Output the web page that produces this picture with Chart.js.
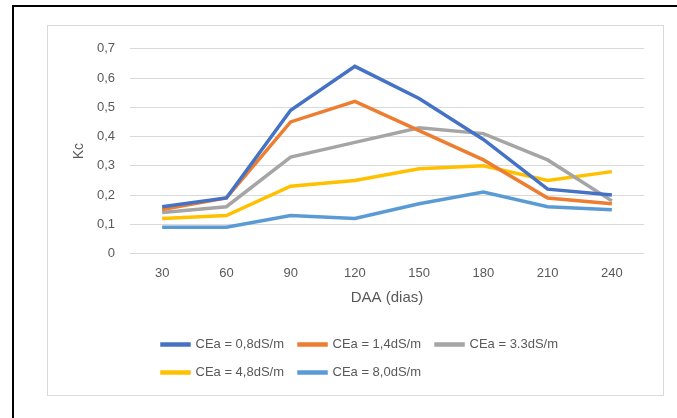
<!DOCTYPE html>
<html lang="pt">
<head>
    <meta charset="UTF-8">
    <title>Kc x DAA</title>
    <style>
        html, body { margin: 0; padding: 0; background: #fff; }
        body { width: 677px; height: 418px; position: relative; overflow: hidden; }
        .moldura {
            position: absolute; left: 12px; top: 5px; width: 700px; height: 440px;
            border-left: 2px solid #000; border-top: 2px solid #000;
        }
        .grafico {
            position: absolute; left: 47px; top: 25px; width: 615px; height: 369px;
            border: 1px solid #d9d9d9; background: #fff;
        }
    </style>
</head>
<body>
    <div class="moldura"></div>
    <div class="grafico">
        <canvas id="kc-chart" width="615" height="369"></canvas>
    </div>

    <script src="https://cdn.jsdelivr.net/npm/chart.js"></script>
    <script>
        const dias = ['30', '60', '90', '120', '150', '180', '210', '240'];
        const yTickLabels = ['0', '0,1', '0,2', '0,3', '0,4', '0,5', '0,6', '0,7'];

        const cea08 = [0.16, 0.19, 0.49, 0.64, 0.53, 0.39, 0.22, 0.20];
        const cea14 = [0.15, 0.19, 0.45, 0.52, 0.42, 0.32, 0.19, 0.17];
        const cea33 = [0.14, 0.16, 0.33, 0.38, 0.43, 0.41, 0.32, 0.18];
        const cea48 = [0.12, 0.13, 0.23, 0.25, 0.29, 0.30, 0.25, 0.28];
        const cea80 = [0.09, 0.09, 0.13, 0.12, 0.17, 0.21, 0.16, 0.15];

        const cinza = '#595959';
        const fonte = '"Liberation Sans", Arial, sans-serif';

        function serie(label, data, cor) {
            return {
                label: label,
                data: data,
                borderColor: cor,
                backgroundColor: cor,
                borderWidth: 3.5,
                pointRadius: 0,
                tension: 0
            };
        }

        // legenda do Excel: linhas alinhadas à esquerda, 3 itens na primeira linha
        const legendaExcel = {
            id: 'legendaExcel',
            beforeDraw(chart) {
                const lg = chart.legend;
                if (!lg) return;
                lg.left = 99;
                lg.right = 99 + 500;
            }
        };

        new Chart(document.getElementById('kc-chart').getContext('2d'), {
            type: 'line',
            data: {
                labels: dias,
                datasets: [
                    serie('CEa = 0,8dS/m', cea08, '#4472C4'),
                    serie('CEa = 1,4dS/m', cea14, '#ED7D31'),
                    serie('CEa = 3.3dS/m', cea33, '#A5A5A5'),
                    serie('CEa = 4,8dS/m', cea48, '#FFC000'),
                    serie('CEa = 8,0dS/m', cea80, '#5B9BD5')
                ]
            },
            options: {
                responsive: false,
                animation: false,
                layout: { padding: { top: 18, right: 19, bottom: 6, left: 0 } },
                plugins: {
                    tooltip: { enabled: false },
                    legend: {
                        position: 'bottom',
                        align: 'start',
                        labels: {
                            boxWidth: 27,
                            boxHeight: 1,
                            padding: 15,
                            color: cinza,
                            font: { family: fonte, size: 13 }
                        }
                    }
                },
                scales: {
                    x: {
                        offset: true,
                        grid: { display: false, drawTicks: false },
                        border: { display: false },
                        ticks: {
                            padding: 12,
                            color: cinza,
                            font: { family: fonte, size: 13 }
                        },
                        title: {
                            display: true,
                            text: 'DAA (dias)',
                            color: cinza,
                            padding: { top: 0, bottom: 16 },
                            font: { family: fonte, size: 15 }
                        },
                        afterFit(scale) { scale.height = 69.5; }
                    },
                    y: {
                        min: 0,
                        max: 0.7,
                        ticks: {
                            stepSize: 0.1,
                            padding: 15,
                            color: cinza,
                            font: { family: fonte, size: 13 },
                            callback: (v, i) => yTickLabels[i]
                        },
                        grid: { color: '#d9d9d9', lineWidth: 1, drawTicks: false },
                        border: { display: false },
                        title: {
                            display: true,
                            text: 'Kc',
                            color: cinza,
                            padding: { top: 23, bottom: 0 },
                            font: { family: fonte, size: 14 }
                        },
                        afterFit(scale) { scale.width = 82; }
                    }
                }
            },
            plugins: [legendaExcel]
        });
    </script>
</body>
</html>
